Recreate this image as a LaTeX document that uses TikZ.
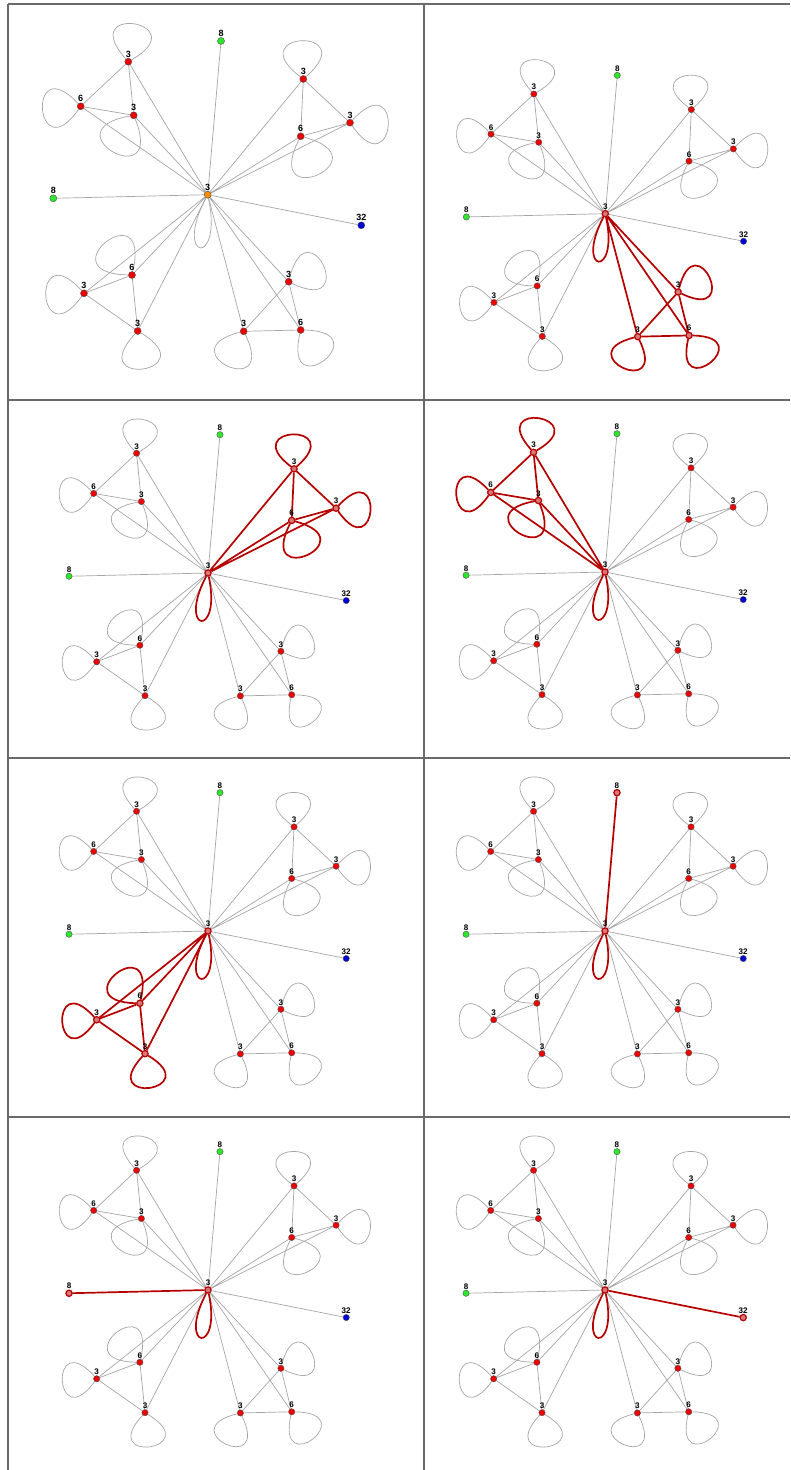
\documentclass[tikz,border=0pt]{standalone}
\usepackage{fontspec}
\setmainfont{Liberation Sans}
\usetikzlibrary{backgrounds}

\definecolor{linegray}{RGB}{165,165,165}
\definecolor{hotred}{RGB}{182,0,0}
\definecolor{hotfill}{RGB}{214,120,122}
\definecolor{vred}{RGB}{238,0,0}
\definecolor{vgreen}{RGB}{45,230,45}
\definecolor{vblue}{RGB}{0,0,215}
\definecolor{vorange}{RGB}{255,140,0}
\definecolor{cellgray}{RGB}{105,105,105}

\tikzset{
  vtx/.style={circle,draw=black!70,line width=0.4pt,inner sep=0pt,minimum size=7pt,
    label distance=0pt,label={[lbl]above:#1}},
  lbl/.style={font=\fontsize{9}{9}\selectfont\bfseries,inner sep=0.6pt},
  gline/.style={draw=linegray,line width=0.7pt},
  hotline/.style={draw=hotred,line width=1.7pt},
  hotv/.style={draw=hotred,fill=hotfill,line width=1.2pt},
  % every group is plain unless a panel says otherwise
  eTL/.style={gline},eTR/.style={gline},eBL/.style={gline},eBR/.style={gline},
  eT8/.style={gline},eL8/.style={gline},e32/.style={gline},eC/.style={gline},
  vTL/.style={fill=vred},vTR/.style={fill=vred},vBL/.style={fill=vred},vBR/.style={fill=vred},
  vT8/.style={fill=vgreen},vL8/.style={fill=vgreen},v32/.style={fill=vblue},vC/.style={fill=vorange},
  panel/.style={scale=0.9,transform shape}
}

\newcommand{\stargraph}{%
  \node[vtx=3,vC] (hub) at (0,0) {};
  \node[vtx=8,vT8] (top8) at (13.3,153.7) {};
  \node[vtx=8,vL8] (left8) at (-154.4,-3.6) {};
  \node[vtx=32,v32] (n32) at (153.6,-30.6) {};
  \node[vtx=3,vTL] (a1) at (-79.4,133) {};
  \node[vtx=6,vTL] (a2) at (-127,88.4) {};
  \node[vtx=3,vTL] (a3) at (-74,79.4) {};
  \node[vtx=3,vTR] (b1) at (95.6,115.7) {};
  \node[vtx=3,vTR] (b2) at (142.3,72) {};
  \node[vtx=6,vTR] (b3) at (93,58.4) {};
  \node[vtx=6,vBL] (c1) at (-75.7,-80.3) {};
  \node[vtx=3,vBL] (c2) at (-123.7,-98.6) {};
  \node[vtx=3,vBL] (c3) at (-70,-136.3) {};
  \node[vtx=3,vBR] (d1) at (81,-87) {};
  \node[vtx=3,vBR] (d2) at (36,-136.6) {};
  \node[vtx=6,vBR] (d3) at (93,-135.3) {};
  \begin{pgfonlayer}{background}
  \draw[eT8] (hub) -- (top8);
  \draw[eL8] (hub) -- (left8);
  \draw[e32] (hub) -- (n32);
  % top left
  \draw[eTL] (a1) -- (a2) (a1) -- (a3) (a2) -- (a3) (hub) -- (a1) (hub) -- (a2) (hub) -- (a3);
  \draw[eTL] (a1) .. controls +(132:80) and +(30:80) .. (a1);
  \draw[eTL] (a2) .. controls +(235:80) and +(133:80) .. (a2);
  \draw[eTL] (a3) .. controls +(292:88) and +(190:88) .. (a3);
  % top right
  \draw[eTR] (b1) -- (b2) (b1) -- (b3) (b3) -- (b2) (hub) -- (b1) (hub) -- (b2) (hub) -- (b3);
  \draw[eTR] (b1) .. controls +(143:80) and +(41:80) .. (b1);
  \draw[eTR] (b2) .. controls +(47:80) and +(-55:80) .. (b2);
  \draw[eTR] (b3) .. controls +(-15:88) and +(-117:88) .. (b3);
  % bottom left
  \draw[eBL] (c1) -- (c2) (c1) -- (c3) (c2) -- (c3) (hub) -- (c1) (hub) -- (c2) (hub) -- (c3);
  \draw[eBL] (c1) .. controls +(179:88) and +(77:88) .. (c1);
  \draw[eBL] (c2) .. controls +(234:80) and +(132:80) .. (c2);
  \draw[eBL] (c3) .. controls +(-31:80) and +(-133:80) .. (c3);
  % bottom right
  \draw[eBR] (d1) -- (d2) (d1) -- (d3) (d2) -- (d3) (hub) -- (d1) (hub) -- (d2) (hub) -- (d3);
  \draw[eBR] (d1) .. controls +(76:80) and +(-26:80) .. (d1);
  \draw[eBR] (d2) .. controls +(296:80) and +(194:80) .. (d2);
  \draw[eBR] (d3) .. controls +(-1:80) and +(-103:80) .. (d3);
  % hub loop
  \draw[eC] (hub) .. controls +(-78:75) and +(-118:75) .. (hub);
  \end{pgfonlayer}
}

\begin{document}
\begin{tikzpicture}[x=1pt,y=1pt,grid/.style={draw=cellgray,line width=1.2pt}]
\useasboundingbox (0,0) rectangle (790,-1470);
\draw[grid] (8,-4) -- (790,-4);
\draw[grid] (8,-4) -- (8,-1470);
\draw[grid] (424,-4) -- (424,-1470);
\draw[grid] (8,-400) -- (790,-400);
\draw[grid] (8,-758) -- (790,-758);
\draw[grid] (8,-1117) -- (790,-1117);

\begin{scope}[shift={(207.7,-194.7)},name prefix=p1-]
  \stargraph
\end{scope}
\begin{scope}[shift={(605.3,-213.7)},panel,name prefix=p2-,
    eBR/.style={hotline},vBR/.style={hotv},eC/.style={hotline},vC/.style={hotv}]
  \stargraph
\end{scope}
\begin{scope}[shift={(208,-573)},panel,name prefix=p3-,
    eTR/.style={hotline},vTR/.style={hotv},eC/.style={hotline},vC/.style={hotv}]
  \stargraph
\end{scope}
\begin{scope}[shift={(605,-572)},panel,name prefix=p4-,
    eTL/.style={hotline},vTL/.style={hotv},eC/.style={hotline},vC/.style={hotv}]
  \stargraph
\end{scope}
\begin{scope}[shift={(208,-931)},panel,name prefix=p5-,
    eBL/.style={hotline},vBL/.style={hotv},eC/.style={hotline},vC/.style={hotv}]
  \stargraph
\end{scope}
\begin{scope}[shift={(605,-931)},panel,name prefix=p6-,
    eT8/.style={hotline},vT8/.style={hotv},eC/.style={hotline},vC/.style={hotv}]
  \stargraph
\end{scope}
\begin{scope}[shift={(208,-1290)},panel,name prefix=p7-,
    eL8/.style={hotline},vL8/.style={hotv},eC/.style={hotline},vC/.style={hotv}]
  \stargraph
\end{scope}
\begin{scope}[shift={(605,-1290)},panel,name prefix=p8-,
    e32/.style={hotline},v32/.style={hotv},eC/.style={hotline},vC/.style={hotv}]
  \stargraph
\end{scope}
\end{tikzpicture}
\end{document}
